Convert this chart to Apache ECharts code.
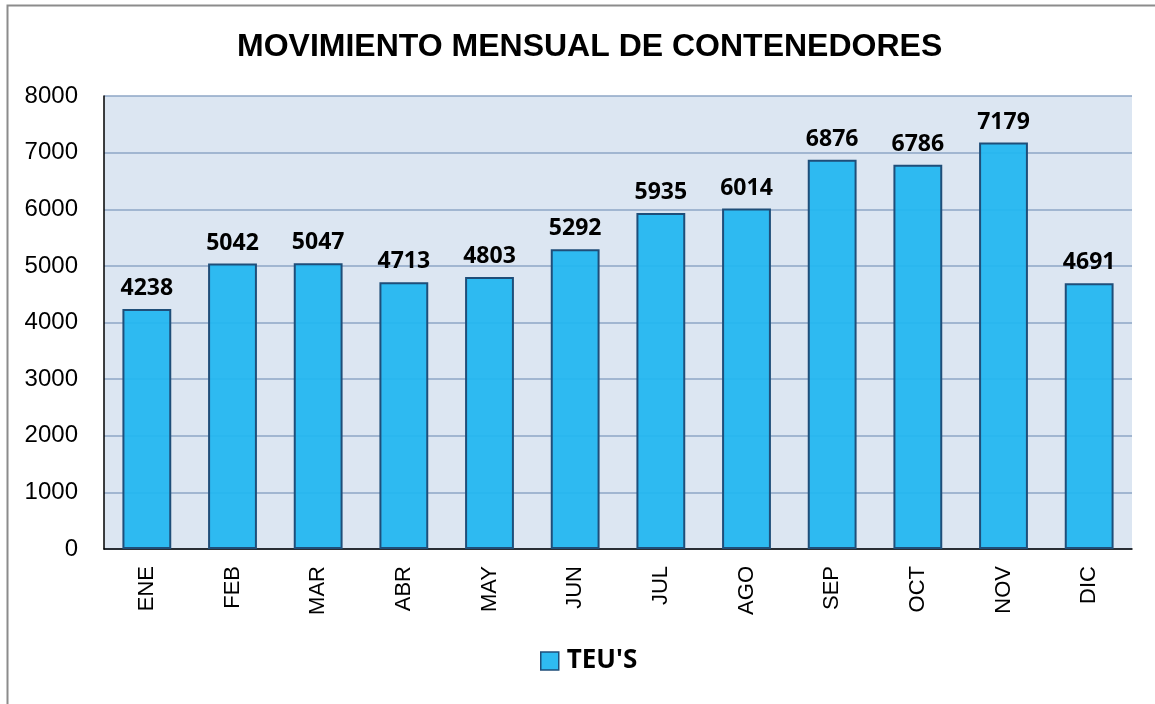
<!DOCTYPE html>
<html>
<head>
<meta charset="utf-8">
<script src="https://cdn.jsdelivr.net/npm/echarts@6/dist/echarts.min.js"></script>
<style>
  html, body { margin: 0; padding: 0; background: #fff; }
  #chart { width: 1155px; height: 704px; }
</style>
</head>
<body>
<div id="chart"></div>
<script>
const months = ['ENE', 'FEB', 'MAR', 'ABR', 'MAY', 'JUN', 'JUL', 'AGO', 'SEP', 'OCT', 'NOV', 'DIC']
const teus = [4238, 5042, 5047, 4713, 4803, 5292, 5935, 6014, 6876, 6786, 7179, 4691]
const yMax = 8000
const yStep = 1000

const chart = echarts.init(document.getElementById('chart'))
chart.setOption({
  animation: false,
  title: {
    text: 'MOVIMIENTO MENSUAL DE CONTENEDORES',
    left: 232,
    top: 26,
    textStyle: {
      fontFamily: 'Liberation Sans',
      fontWeight: 'bold',
      fontSize: 32,
      color: '#000'
    }
  },
  // marco gris del gráfico
  graphic: [{
    type: 'rect',
    shape: { x: 7.5, y: 5.5, width: 1200, height: 760 },
    style: { fill: 'none', stroke: '#8c8c8c', lineWidth: 2 },
    silent: true
  }],
  legend: {
    bottom: 25,
    left: 535,
    icon: 'rect',
    itemWidth: 18,
    itemHeight: 18,
    itemGap: 8,
    itemStyle: { borderColor: '#1f4e79', borderWidth: 1.5 },
    textStyle: {
      fontFamily: 'Open Sans',
      fontWeight: 'bold',
      fontSize: 26,
      color: '#000',
      padding: [0, 0, 0, 3]
    },
    data: ["TEU'S"]
  },
  grid: {
    left: 104,
    right: 23,
    top: 96,
    bottom: 155,
    show: true,
    backgroundColor: '#dce6f2',
    borderWidth: 0
  },
  xAxis: {
    type: 'category',
    data: months,
    axisLine: { lineStyle: { color: '#000', width: 1.5 } },
    axisTick: { show: false },
    axisLabel: {
      rotate: 90,
      margin: 17,
      fontFamily: 'Liberation Sans',
      fontSize: 22,
      color: '#000'
    }
  },
  yAxis: {
    type: 'value',
    min: 0,
    max: yMax,
    interval: yStep,
    axisLine: { show: true, lineStyle: { color: '#000', width: 1.5 } },
    axisTick: { show: false },
    splitLine: { lineStyle: { color: '#8ea6c6', width: 1.5 } },
    axisLabel: {
      margin: 26,
      formatter: v => String(v),
      fontFamily: 'Liberation Sans',
      fontSize: 24,
      color: '#000'
    }
  },
  series: [{
    name: "TEU'S",
    type: 'bar',
    data: teus,
    barWidth: '57%',
    itemStyle: {
      color: 'rgba(36,183,240,0.95)',
      borderColor: '#1f4e79',
      borderWidth: 2
    },
    label: {
      show: true,
      position: 'top',
      distance: 9,
      fontFamily: 'Open Sans',
      fontWeight: 'bold',
      fontSize: 23,
      color: '#000'
    }
  }]
})
</script>
</body>
</html>
